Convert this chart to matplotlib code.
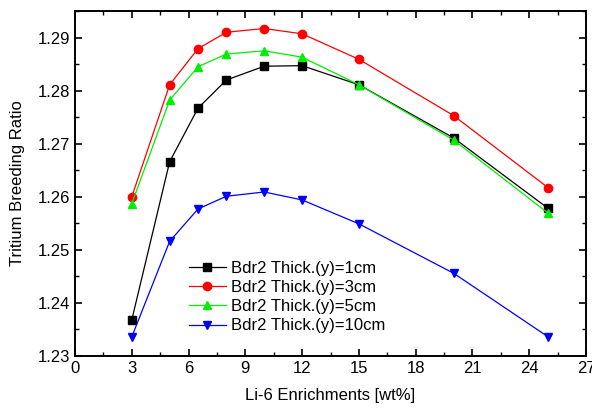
import matplotlib
matplotlib.use("Agg")
import matplotlib.pyplot as plt
from matplotlib.ticker import MultipleLocator

plt.rcParams['font.family'] = ['Liberation Sans', 'DejaVu Sans']

enrich = [3, 5, 6.5, 8, 10, 12, 15, 20, 25]
tbr_1cm = [1.2368, 1.2666, 1.2767, 1.2820, 1.2846, 1.2847, 1.2811, 1.2711, 1.2578]
tbr_3cm = [1.2600, 1.2811, 1.2879, 1.2910, 1.2917, 1.2907, 1.2859, 1.2753, 1.2617]
tbr_5cm = [1.2587, 1.2782, 1.2845, 1.2869, 1.2875, 1.2863, 1.2811, 1.2707, 1.2569]
tbr_10cm = [1.2336, 1.2516, 1.2577, 1.2601, 1.2609, 1.2594, 1.2549, 1.2456, 1.2336]
labels = ["Bdr2 Thick.(y)=1cm", "Bdr2 Thick.(y)=3cm", "Bdr2 Thick.(y)=5cm", "Bdr2 Thick.(y)=10cm"]

fig = plt.figure(figsize=(5.92, 4.09), dpi=100)
ax = fig.add_axes([0.1267, 0.1296, 0.8632, 0.8435])

series = [tbr_1cm, tbr_3cm, tbr_5cm, tbr_10cm]
colors = ['black', 'red', '#00ee00', 'blue']
markers = ['s', 'o', '^', 'v']
for s, c, m, l in zip(series, colors, markers, labels):
    ax.plot(enrich, s, color=c, marker=m, markersize=6, linewidth=0.9, label=l)

ax.set_xlim(0, 27)
ax.set_ylim(1.23, 1.295)
ax.xaxis.set_major_locator(MultipleLocator(3))
ax.xaxis.set_minor_locator(MultipleLocator(1.5))
ax.yaxis.set_major_locator(MultipleLocator(0.01))
ax.yaxis.set_minor_locator(MultipleLocator(0.005))
ax.yaxis.set_major_formatter(matplotlib.ticker.FormatStrFormatter('%.2f'))
ax.tick_params(which='both', direction='in', top=True, right=True, labelsize=12)
ax.tick_params(which='major', length=5, width=1.2)
ax.tick_params(which='minor', length=3, width=1.0)
for sp in ax.spines.values():
    sp.set_linewidth(1.4)

ax.set_xlabel("Li-6 Enrichments [wt%]", fontsize=12, labelpad=9)
ax.set_ylabel("Tritium Breeding Ratio", fontsize=12, labelpad=9)

ax.legend(loc='upper left', bbox_to_anchor=(0.21, 0.295), frameon=False, fontsize=12,
          handlelength=2.2, handletextpad=0.35, labelspacing=0.25, borderaxespad=0)

fig.savefig("out.png", dpi=100)
